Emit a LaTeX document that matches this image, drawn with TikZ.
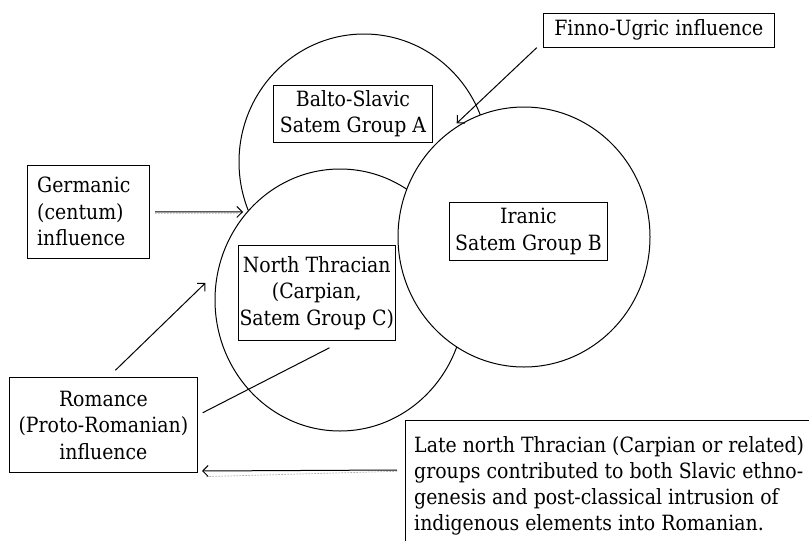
\documentclass[tikz,border=0pt]{standalone}
\usepackage{fontspec}
\setmainfont{DejaVu Serif Condensed}
\usetikzlibrary{arrows.meta}
\begin{document}
\begin{tikzpicture}[x=1pt,y=-1pt,
  lbl/.style={draw, fill=white, line width=1pt, inner sep=0pt,
    font=\fontsize{21}{26.5}\selectfont, align=center, anchor=north west},
  grp/.style={draw, fill=white, line width=1pt},
  arr/.style={line width=1pt, -{Straight Barb[length=5.5pt,width=11pt]}},
  ghost/.style={gray!65, line width=0.7pt, dash pattern=on 1.6pt off 1.4pt}
]
\useasboundingbox (0,0) rectangle (809,541);
\clip (0,0) rectangle (809,541);

% the three overlapping language groups (A behind C behind B)
\draw[grp] (364,162) ellipse [x radius=125, y radius=128];
\draw[grp] (340,300) ellipse [x radius=125, y radius=131];
\draw[grp] (524,237) ellipse [x radius=126, y radius=130];

% group labels
\node[lbl, minimum width=158.4pt, minimum height=57pt] (balto) at (273.3,84.7)
  {Balto-Slavic\\Satem Group A};
\node[lbl, minimum width=158pt, minimum height=57.5pt] (iran) at (449,202)
  {Iranic\\Satem Group B};
\node[lbl, minimum width=156.5pt, minimum height=95pt] (thrac) at (238,245)
  {North Thracian\\(Carpian,\\Satem Group C)};

% outside influences
\node[lbl, minimum width=231.3pt, minimum height=34pt] (finno) at (542.7,12.7)
  {Finno-Ugric influence};
\node[lbl, align=left, inner xsep=9.4pt, text width=103pt, minimum height=92.7pt]
  (germ) at (27.3,165)
  {Germanic\\(centum)\\influence};
\node[lbl, minimum width=187.7pt, minimum height=94.7pt] (rom) at (9,377.3)
  {Romance\\(Proto-Romanian)\\influence};

% note at the lower right, running off the page
\node[anchor=north west, inner xsep=9pt, inner ysep=16pt, align=left,
  font=\fontsize{21}{26}\selectfont] (late) at (405,420.7)
  {Late north Thracian (Carpian or related)\\
   groups contributed to both Slavic ethno-\\
   genesis and post-classical intrusion of\\
   indigenous elements into Romanian.};
\draw[line width=1pt] (late.north west) ++(0,160) -- (late.north west) -- ++(420,0);

% connectors
\coordinate (fuTip) at (456.7,123.3);
\coordinate (geTip) at (243,212);
\coordinate (roTip) at (205.4,283);

\draw[arr] ([xshift=-6pt]finno.south west) -- (fuTip);

\draw[ghost] ([shift={(5pt,-1.3pt)}]germ.east) -- ([shift={(-4pt,-1.3pt)}]geTip);
\draw[arr] ([xshift=5pt]germ.east) -- (geTip);

\draw[arr] ([shift={(12pt,7pt)}]rom.north) -- (roTip);
\draw[line width=1pt] ([shift={(5pt,12.4pt)}]rom.east) -- ([shift={(12.7pt,-6.8pt)}]thrac.south);

\draw[ghost] ([shift={(-8pt,-50.6pt)}]late.north west) -- ([shift={(8pt,-3.6pt)}]rom.south east);
\draw[arr] ([shift={(-8pt,-49.3pt)}]late.north west) -- ([shift={(4.3pt,2pt)}]rom.south east);
\end{tikzpicture}
\end{document}
